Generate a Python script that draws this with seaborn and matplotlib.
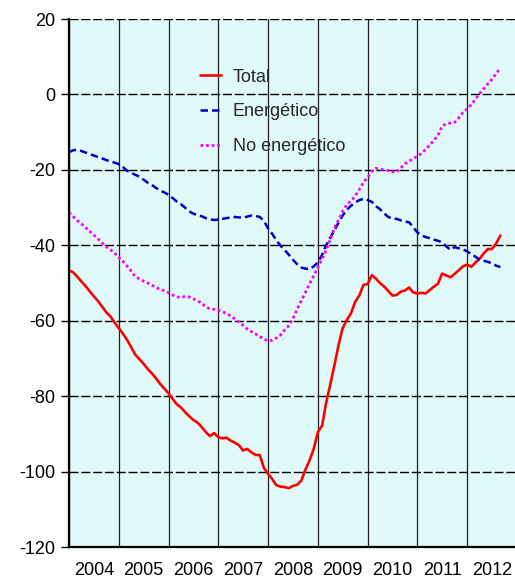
import numpy as np
import pandas as pd
import matplotlib
matplotlib.use('Agg')
import matplotlib.pyplot as plt
import matplotlib.dates as mdates
import seaborn as sns

# Series mensuales, enero 2004 - septiembre 2012
total = [
    -46.6, -47.2, -48.3, -49.6, -50.8, -52.2, -53.5, -54.8, -56.3, -57.8, -58.9, -60.5,
    -62.0, -63.5, -65.0, -67.0, -69.0, -70.2, -71.4, -72.8, -74.0, -75.3, -76.8, -78.0,
    -79.3, -80.8, -82.1, -83.0, -84.2, -85.3, -86.3, -87.0, -88.2, -89.5, -90.6, -89.8,
    -90.9, -91.2, -91.0, -91.8, -92.3, -93.0, -94.4, -94.0, -94.9, -95.6, -95.6, -99.0,
    -100.6, -102.0, -103.6, -104.0, -104.1, -104.4, -103.8, -103.5, -102.4, -99.5, -97.0, -94.0,
    -89.5, -87.8, -82.0, -77.0, -72.0, -66.5, -62.0, -59.8, -58.0, -55.0, -53.3, -50.5,
    -50.3, -47.9, -48.8, -50.0, -50.9, -52.1, -53.3, -53.2, -52.3, -52.0, -51.2, -52.5,
    -52.8, -52.6, -52.8, -51.9, -51.0, -50.2, -47.5, -48.0, -48.5, -47.6, -46.6, -45.6,
    -45.1, -45.7, -44.6, -43.6, -42.2, -41.0, -41.0, -39.5, -37.4,
]
energetico = [
    -15.3, -14.8, -14.7, -15.0, -15.4, -15.8, -16.2, -16.6, -17.0, -17.4, -17.8, -18.1,
    -18.5, -19.3, -20.2, -20.8, -21.3, -21.8, -22.6, -23.4, -24.0, -24.8, -25.5, -26.0,
    -26.6, -27.5, -28.4, -29.1, -30.0, -31.0, -31.6, -32.0, -32.3, -32.8, -33.1, -33.3,
    -33.2, -33.0, -32.8, -32.6, -32.5, -32.6, -32.7, -32.4, -32.1, -32.2, -32.5, -33.5,
    -35.5, -37.0, -38.6, -40.1, -41.2, -42.5, -43.8, -45.0, -45.9, -46.2, -46.3, -45.6,
    -44.5, -42.5, -40.1, -38.0, -36.1, -34.0, -32.1, -30.6, -29.5, -28.7, -28.0, -27.7,
    -28.0, -28.5, -29.6, -30.4, -31.5, -32.5, -32.9, -33.0, -33.4, -33.7, -33.9, -35.2,
    -36.6, -37.4, -37.8, -38.1, -38.5, -38.8, -39.2, -40.3, -41.2, -40.5, -40.8, -41.1,
    -41.6, -42.4, -43.0, -43.8, -44.1, -44.4, -44.8, -45.4, -45.8,
]
no_energetico = [
    -31.3, -32.4, -33.4, -34.3, -35.3, -36.3, -37.3, -38.3, -39.4, -40.4, -41.2, -42.1,
    -43.2, -44.3, -45.5, -46.8, -48.3, -48.9, -49.5, -50.0, -50.6, -51.2, -51.7, -52.1,
    -52.6, -53.2, -53.7, -53.8, -53.6, -53.7, -54.2, -54.7, -55.4, -56.3, -56.9, -57.0,
    -57.2, -57.6, -58.1, -58.7, -59.5, -60.3, -61.2, -62.2, -62.9, -63.5, -64.2, -64.9,
    -65.3, -65.2, -64.6, -63.8, -62.5, -61.3, -59.5, -57.0, -54.7, -52.5, -50.2, -48.1,
    -45.8, -43.6, -41.4, -38.5, -35.5, -33.3, -31.0, -29.2, -28.2, -27.0, -25.2, -23.3,
    -22.0, -20.4, -19.6, -19.8, -20.0, -20.2, -20.5, -20.6, -19.5, -18.4, -17.7, -17.0,
    -16.4, -15.6, -14.6, -13.5, -12.2, -10.9, -8.4, -7.8, -7.6, -7.4, -6.2, -4.8,
    -3.8, -2.7, -1.3, 0.2, 1.5, 2.8, 4.0, 5.5, 7.0,
]
fechas = pd.date_range('2004-01-01', periods=len(total), freq='MS')

df = pd.DataFrame({'fecha': fechas, 'Total': total,
                   'Energético': energetico, 'No energético': no_energetico})

sns.set_theme(style='white')
plt.rcParams['font.family'] = ['Liberation Sans', 'DejaVu Sans']
plt.rcParams['axes.unicode_minus'] = False

fig = plt.figure(figsize=(5.15, 5.79), dpi=100)
ax = fig.add_axes([69 / 515, 32 / 579, 448 / 515, 528 / 579])
ax.set_facecolor('#E0FAFA')

sns.lineplot(data=df, x='fecha', y='Total', ax=ax, color='#FF0000', lw=1.9, label='Total')
sns.lineplot(data=df, x='fecha', y='Energético', ax=ax, color='#0000C8', lw=1.8, label='Energético')
sns.lineplot(data=df, x='fecha', y='No energético', ax=ax, color='#FF00FF', lw=2.0, label='No energético')
ax.lines[1].set_dashes((3, 1.6))
ax.lines[2].set_dashes((1, 1))
ax.lines[2].set_dash_capstyle('butt')

ax.set_ylim(-120, 20)
ax.set_yticks(range(-120, 21, 20))
ax.set_xlim(pd.Timestamp('2004-01-01'), pd.Timestamp('2013-01-01'))
ax.xaxis.set_major_locator(mdates.YearLocator())
ax.xaxis.set_major_formatter(plt.NullFormatter())
ax.xaxis.set_minor_locator(mdates.MonthLocator(bymonth=7))
ax.xaxis.set_minor_formatter(mdates.DateFormatter('%Y'))
ax.set_xlabel('')
ax.set_ylabel('')

ax.set_axisbelow(True)
ax.yaxis.grid(True, color='black', lw=1.0, linestyle=(0, (6.5, 2)))
ax.xaxis.grid(True, which='major', color='#222222', lw=0.9, linestyle='-')

for s in ['top', 'right']:
    ax.spines[s].set_visible(False)
for s in ['left', 'bottom']:
    ax.spines[s].set_color('black')
    ax.spines[s].set_linewidth(1.6)

ax.tick_params(axis='y', which='major', direction='out', length=6, width=1,
               color='black', pad=4, labelsize=13, labelcolor='black', left=True)
ax.tick_params(axis='x', which='both', length=0, pad=11, labelsize=13, labelcolor='black')

leg = ax.legend(loc='upper left', bbox_to_anchor=(0.292, 0.906), frameon=False,
                fontsize=13, handlelength=1.2, handletextpad=0.62,
                labelspacing=0.98, borderpad=0, borderaxespad=0)

fig.savefig('out.png', dpi=100)
